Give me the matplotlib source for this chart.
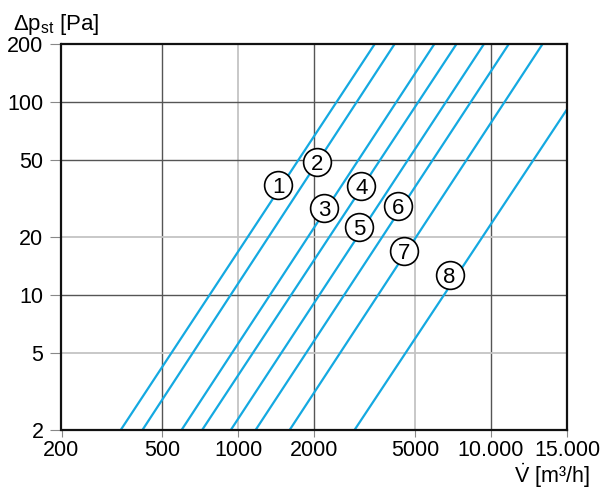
import matplotlib
matplotlib.use("Agg")
import matplotlib.pyplot as plt
from matplotlib import font_manager

# ---------------- data ----------------
line_ids = ["1", "2", "3", "4", "5", "6", "7", "8"]
# each line: start point (flow at 2 Pa) and end point where it leaves the chart
v_start = [343, 418, 597, 720, 935, 1172, 1598, 2886]
p_start = [2, 2, 2, 2, 2, 2, 2, 2]
v_end = [3464, 4152, 5963, 7295, 9371, 11750, 15980, 20000]
p_end = [200, 200, 200, 200, 200, 200, 200, 92]

label_v = [1443, 2054, 2184, 3069, 3006, 4305, 4545, 6864]
label_p = [37.2, 49.2, 28.2, 36.9, 22.6, 29.1, 16.9, 12.7]

x_ticks = [200, 500, 1000, 2000, 5000, 10000, 20000]
x_ticklabels = ["200", "500", "1000", "2000", "5000", "10.000", "15.000"]
y_ticks = [2, 5, 10, 20, 50, 100, 200]
y_ticklabels = ["2", "5", "10", "20", "50", "100", "200"]

grid_x_dark = [500, 2000, 10000]
grid_x_light = [1000, 5000]
grid_y_dark = [10, 50, 100]
grid_y_light = [5, 20]

# ---------------- style ----------------
avail = {f.name for f in font_manager.fontManager.ttflist}
fam = "Liberation Sans" if "Liberation Sans" in avail else "DejaVu Sans"
plt.rcParams["font.family"] = [fam, "DejaVu Sans"]
plt.rcParams["mathtext.fontset"] = "custom"
plt.rcParams["mathtext.rm"] = fam
plt.rcParams["mathtext.it"] = fam

blue = "#14a9e1"
dark = "#555555"
light = "#c4c4c4"
fs = 15.5

fig = plt.figure(figsize=(6.0, 4.98), dpi=100)
ax = fig.add_axes([61.5 / 600, 1 - 430 / 498, (567 - 61.5) / 600, (430 - 44.3) / 498])
ax.set_xscale("log")
ax.set_yscale("log")
ax.set_xlim(200, 20000)
ax.set_ylim(2, 200)

for g in grid_x_light:
    ax.axvline(g, color=light, lw=1.3, zorder=1)
for g in grid_x_dark:
    ax.axvline(g, color=dark, lw=1.0, zorder=1)
for g in grid_y_light:
    ax.axhline(g, color=light, lw=1.3, zorder=1)
for g in grid_y_dark:
    ax.axhline(g, color=dark, lw=1.0, zorder=1)

for i in range(len(line_ids)):
    ax.plot([v_start[i], v_end[i]], [p_start[i], p_end[i]], color=blue, lw=1.6,
            solid_capstyle="butt", zorder=2, clip_on=True)

for lid, lv, lp in zip(line_ids, label_v, label_p):
    ax.plot([lv], [lp], marker="o", markersize=20, markerfacecolor="white",
            markeredgecolor="black", markeredgewidth=1.2, zorder=4)
    ax.text(lv, lp, lid, ha="center", va="center_baseline", fontsize=16, zorder=5)

ax.set_xticks(x_ticks)
ax.set_xticklabels(x_ticklabels)
ax.set_yticks(y_ticks)
ax.set_yticklabels(y_ticklabels)
ax.minorticks_off()
ax.tick_params(axis="x", length=5, width=0.8, color="#888888", pad=2, labelsize=fs)
ax.tick_params(axis="y", length=8, width=0.8, color="#888888", pad=5, labelsize=fs)

for s in ax.spines.values():
    s.set_linewidth(1.6)
    s.set_color("#111111")
    s.set_zorder(6)

fig.text(13 / 600, 1 - 30 / 498, r"$\Delta\mathrm{p_{st}}$ [Pa]", fontsize=16,
         ha="left", va="baseline")
fig.text(590 / 600, 1 - 476 / 498, r"$\dot{\mathrm{V}}$ [m³/h]", fontsize=fs,
         ha="right", va="center")

fig.savefig("out.png", dpi=100)
